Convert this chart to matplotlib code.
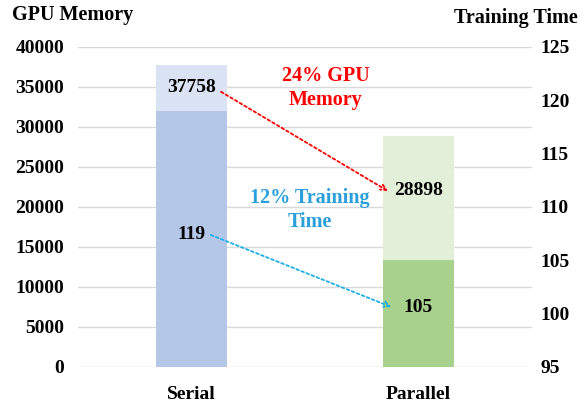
import matplotlib.pyplot as plt

categories = ["Serial", "Parallel"]
gpu_memory = [37758, 28898]
training_time = [119, 105]
mem_ticks = [0, 5000, 10000, 15000, 20000, 25000, 30000, 35000, 40000]
time_ticks = [95, 100, 105, 110, 115, 120, 125]

TIME_MIN, TIME_MAX = 95, 125
MEM_MAX = 40000

plt.rcParams["font.family"] = ["Liberation Serif", "DejaVu Serif"]
plt.rcParams["font.weight"] = "bold"


def time_to_mem(t):
    # map the training-time scale onto the memory axis
    return (t - TIME_MIN) / (TIME_MAX - TIME_MIN) * MEM_MAX


fig = plt.figure(figsize=(5.84, 4.04), dpi=100)
ax = fig.add_axes([0.1336, 0.0916, 0.7774, 0.7921])
ax2 = ax.twinx()

x = list(range(len(categories)))
light = ["#DAE3F3", "#E2F0D9"]
dark = ["#B4C7E7", "#A9D18E"]
time_h = [time_to_mem(t) for t in training_time]

ax.bar(x, gpu_memory, width=0.31, color=light, zorder=2)
ax.bar(x, time_h, width=0.31, color=dark, zorder=3)

ax.set_xlim(-0.5, 1.5)
ax.set_ylim(0, MEM_MAX)
ax.set_yticks(mem_ticks)
ax.set_xticks(x, categories)
ax.yaxis.grid(True, color="#D9D9D9", linewidth=1.0, zorder=0)
ax.set_axisbelow(True)
ax.tick_params(axis="y", length=0, pad=10, labelsize=14)
ax.tick_params(axis="x", length=0, pad=14, labelsize=14)
for s in ax.spines.values():
    s.set_visible(False)

ax2.set_ylim(TIME_MIN, TIME_MAX)
ax2.set_yticks(time_ticks)
ax2.tick_params(axis="y", length=0, pad=6, labelsize=14)
for s in ax2.spines.values():
    s.set_visible(False)

# data labels
fs = 14
ax.text(x[0], 34900, str(gpu_memory[0]), ha="center", va="center", fontsize=fs, zorder=5)
ax.text(x[1], 22100, str(gpu_memory[1]), ha="center", va="center", fontsize=fs, zorder=5)
ax.text(x[0], 16600, str(training_time[0]), ha="center", va="center", fontsize=fs, zorder=5)
ax.text(x[1], 7400, str(training_time[1]), ha="center", va="center", fontsize=fs, zorder=5)

# reduction arrows
ax.annotate("", xy=(x[1] - 0.135, 22000), xytext=(x[0] + 0.13, 34400),
            arrowprops=dict(arrowstyle="->", color="#FF0000", linestyle=(0, (1.5, 1.5)),
                            linewidth=1.3, shrinkA=0, shrinkB=0), zorder=6)
ax.annotate("", xy=(x[1] - 0.12, 7500), xytext=(x[0] + 0.085, 16500),
            arrowprops=dict(arrowstyle="->", color="#1AAFEA", linestyle=(0, (1.5, 1.5)),
                            linewidth=1.3, shrinkA=0, shrinkB=0), zorder=6)

ax.text(0.59, 34900, "24% GPU\nMemory", ha="center", va="center", fontsize=14.5,
        color="#FF0000", linespacing=1.25, zorder=5)
ax.text(0.52, 19600, "12% Training\nTime", ha="center", va="center", fontsize=14.5,
        color="#2A9FDC", linespacing=1.25, zorder=5)

fig.text(0.02, 0.963, "GPU Memory", ha="left", va="center", fontsize=14.5)
fig.text(0.99, 0.955, "Training Time", ha="right", va="center", fontsize=14.5)

fig.savefig("out.png", dpi=100)
